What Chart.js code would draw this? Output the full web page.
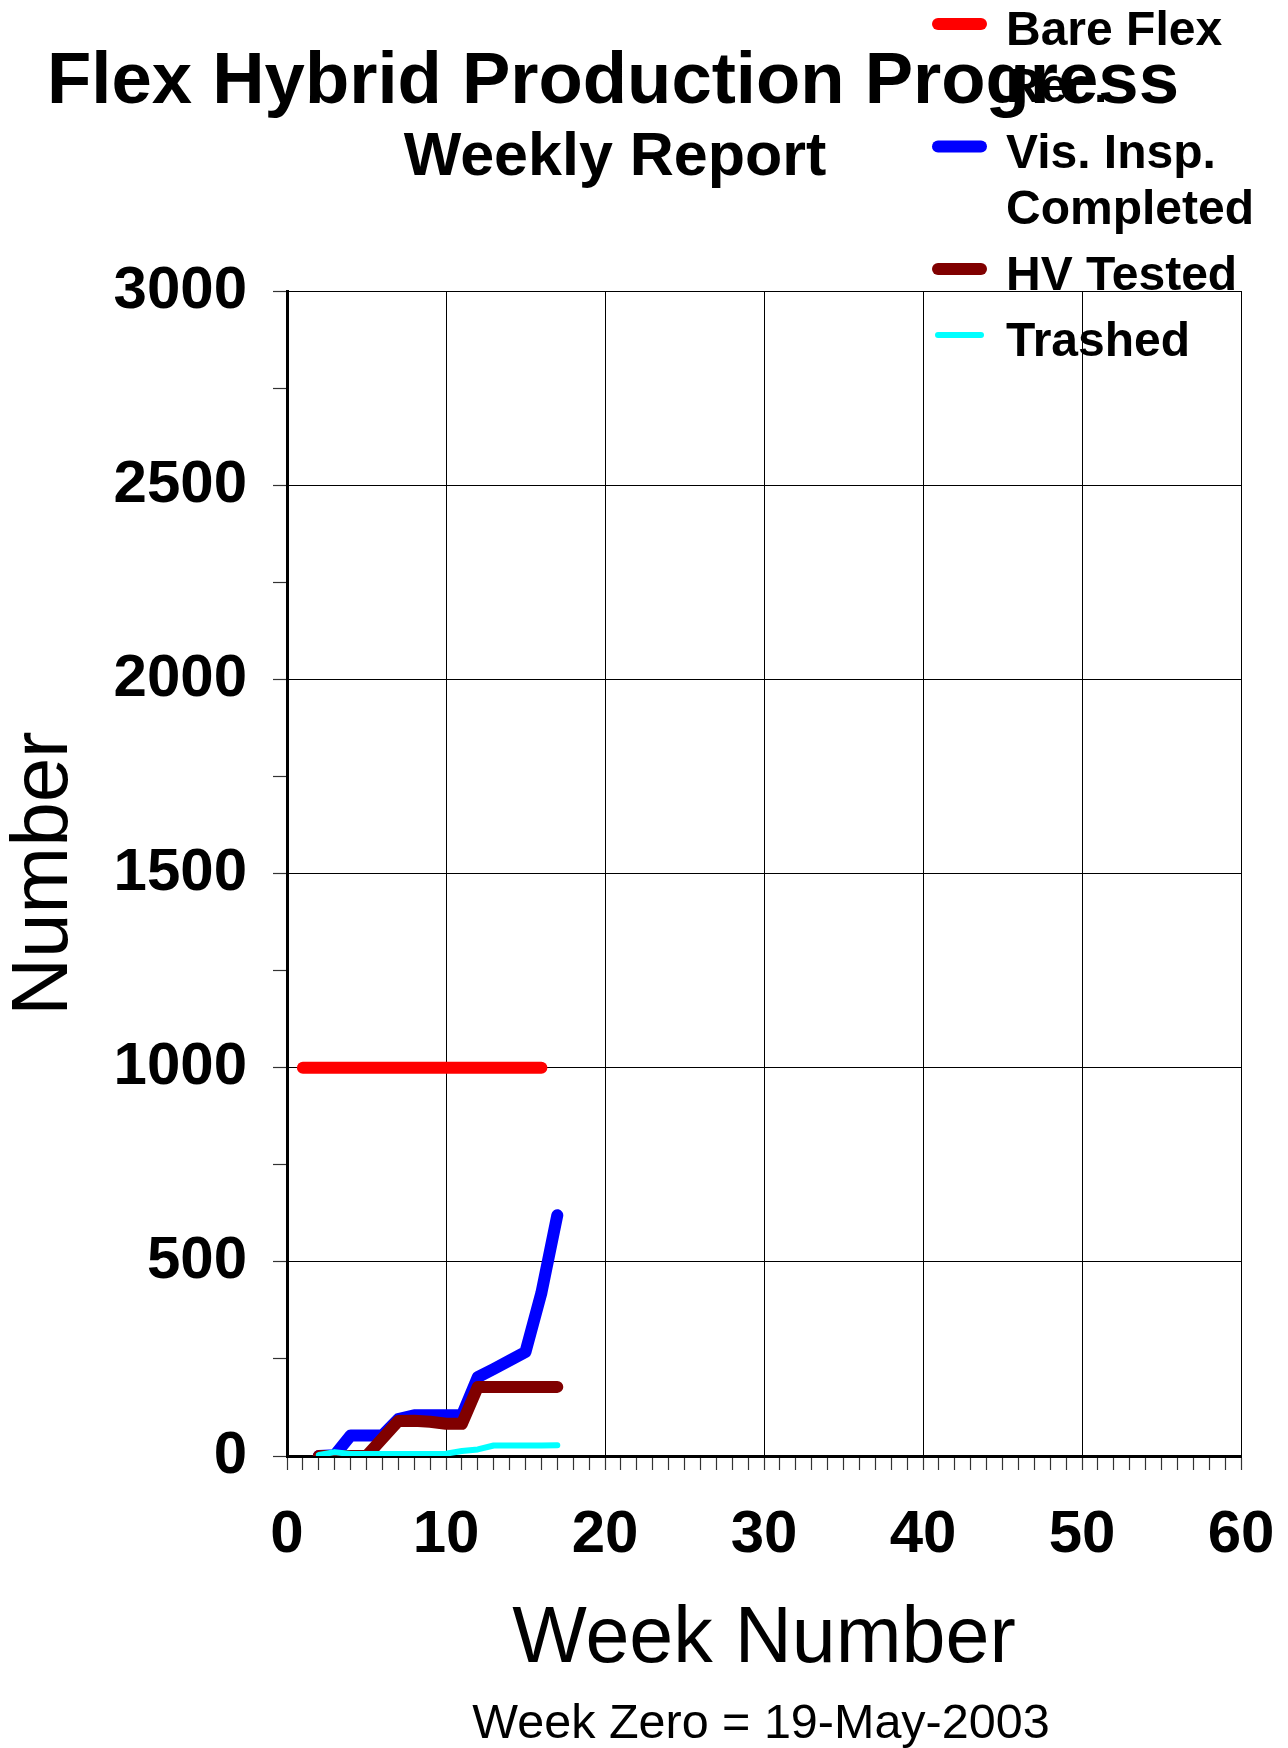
<!DOCTYPE html>
<html>
<head>
<meta charset="utf-8">
<script src="https://cdn.jsdelivr.net/npm/chart.js@4/dist/chart.umd.min.js"></script>
<style>
  html, body { margin: 0; padding: 0; background: #fff; }
  canvas { display: block; }
</style>
</head>
<body>
<canvas id="grafica" width="1288" height="1748"></canvas>
<script>
// Datos
const semanasBare = [1, 2, 3, 4, 5, 6, 7, 8, 9, 10, 11, 12, 13, 14, 15, 16];
const bareFlex = [1000, 1000, 1000, 1000, 1000, 1000, 1000, 1000, 1000, 1000, 1000, 1000, 1000, 1000, 1000, 1000];

const semanas = [2, 3, 4, 5, 6, 7, 8, 9, 10, 11, 12, 13, 14, 15, 16, 17];
const visInsp = [0, 2, 53, 53, 53, 95, 105, 105, 105, 105, 203, 224, 246, 268, 420, 620];
const hvTested = [0, 0, 0, 0, 45, 90, 91, 88, 83, 83, 178, 178, 178, 178, 178, 178];
const trashed = [3, 10, 5, 5, 5, 5, 5, 5, 6, 13, 17, 27, 27, 27, 27, 28];

const etiquetas = ['Bare Flex Rec.', 'Vis. Insp. Completed', 'HV Tested', 'Trashed'];
const colores = ['#ff0000', '#0000ff', '#800000', '#00ffff'];

const titulo = 'Flex Hybrid Production Progress';
const subtitulo = 'Weekly Report';
const nota = 'Week Zero = 19-May-2003';

const FUENTE = '"Liberation Sans", Arial, sans-serif';
Chart.defaults.font.family = FUENTE;
Chart.defaults.color = '#000';

function puntos(xs, ys) {
    return xs.map((x, i) => ({ x: x, y: ys[i] }));
}

// Titulo, leyenda y nota dibujados a mano
const textosExtra = {
    id: 'textosExtra',
    afterDraw(chart) {
        const ctx = chart.ctx;
        ctx.save();
        ctx.fillStyle = '#000';
        ctx.textBaseline = 'alphabetic';

        ctx.textAlign = 'center';
        ctx.font = 'bold 72.5px ' + FUENTE;
        ctx.fillText(titulo, 613, 103);
        ctx.font = 'bold 61px ' + FUENTE;
        ctx.fillText(subtitulo, 615, 175);

        ctx.font = '48.5px ' + FUENTE;
        ctx.fillText(nota, 761, 1738);

        // leyenda
        ctx.textAlign = 'left';
        ctx.font = 'bold 48px ' + FUENTE;
        let base = 45;
        chart.data.datasets.forEach((ds) => {
            // partir el texto en lineas
            const palabras = ds.label.split(' ');
            const lineas = [];
            let actual = '';
            palabras.forEach((p) => {
                const prueba = actual ? actual + ' ' + p : p;
                if (ctx.measureText(prueba).width > 272 && actual) {
                    lineas.push(actual);
                    actual = p;
                } else {
                    actual = prueba;
                }
            });
            lineas.push(actual);

            ctx.strokeStyle = ds.borderColor;
            ctx.lineWidth = ds.borderWidth;
            ctx.lineCap = 'round';
            ctx.beginPath();
            ctx.moveTo(938, base - 21);
            ctx.lineTo(981, base - 21);
            ctx.stroke();

            lineas.forEach((l, i) => {
                ctx.fillText(l, 1006, base + i * 56.5);
            });
            base += (lineas.length - 1) * 56.5 + 66;
        });
        ctx.restore();
    }
};

const canvas = document.getElementById('grafica');

new Chart(canvas, {
    type: 'line',
    data: {
        datasets: [
            {
                label: etiquetas[0],
                data: puntos(semanasBare, bareFlex),
                borderColor: colores[0],
                borderWidth: 12,
                order: 4
            },
            {
                label: etiquetas[1],
                data: puntos(semanas, visInsp),
                borderColor: colores[1],
                borderWidth: 12,
                order: 3
            },
            {
                label: etiquetas[2],
                data: puntos(semanas, hvTested),
                borderColor: colores[2],
                borderWidth: 12,
                order: 2
            },
            {
                label: etiquetas[3],
                data: puntos(semanas, trashed),
                borderColor: colores[3],
                borderWidth: 6,
                order: 1
            }
        ]
    },
    options: {
        responsive: false,
        animation: false,
        events: [],
        layout: {
            padding: { top: 291, right: 47, left: 0, bottom: 0 }
        },
        elements: {
            line: {
                tension: 0,
                fill: false,
                borderCapStyle: 'round',
                borderJoinStyle: 'round'
            },
            point: { radius: 0 }
        },
        scales: {
            x: {
                type: 'linear',
                min: 0,
                max: 60,
                afterFit(scale) {
                    scale.height = 292;
                    scale.paddingRight = 0;
                    scale.paddingLeft = 0;
                },
                ticks: {
                    stepSize: 1,
                    autoSkip: false,
                    maxRotation: 0,
                    minRotation: 0,
                    padding: 29,
                    font: { size: 60, weight: 'bold' },
                    color: '#000',
                    callback: (v) => (v % 10 === 0 ? v : '')
                },
                grid: {
                    color: (c) => (c.tick && c.tick.value % 10 === 0 ? '#000' : 'rgba(0,0,0,0)'),
                    lineWidth: 1,
                    tickColor: '#333',
                    tickWidth: 1.2,
                    tickLength: 14
                },
                border: { display: true, color: '#000', width: 3 },
                title: {
                    display: true,
                    text: 'Week Number',
                    color: '#000',
                    font: { size: 79, weight: 'normal', lineHeight: 1 },
                    padding: { top: 0, bottom: 68 }
                }
            },
            y: {
                min: 0,
                max: 3000,
                afterFit(scale) { scale.width = 287; },
                ticks: {
                    stepSize: 250,
                    padding: 26,
                    font: { size: 60, weight: 'bold' },
                    color: '#000',
                    callback: (v) => (v % 500 === 0 ? v : '')
                },
                grid: {
                    color: (c) => (c.tick && c.tick.value % 500 === 0 ? '#000' : 'rgba(0,0,0,0)'),
                    lineWidth: 1,
                    tickColor: '#333',
                    tickWidth: 1.2,
                    tickLength: 14
                },
                border: { display: true, color: '#000', width: 3 },
                title: {
                    display: true,
                    text: 'Number',
                    color: '#000',
                    font: { size: 80, weight: 'normal', lineHeight: 1 },
                    padding: { top: 5, bottom: 0 }
                }
            }
        },
        plugins: {
            legend: { display: false },
            title: { display: false },
            tooltip: { enabled: false }
        }
    },
    plugins: [textosExtra]
});
</script>
</body>
</html>
